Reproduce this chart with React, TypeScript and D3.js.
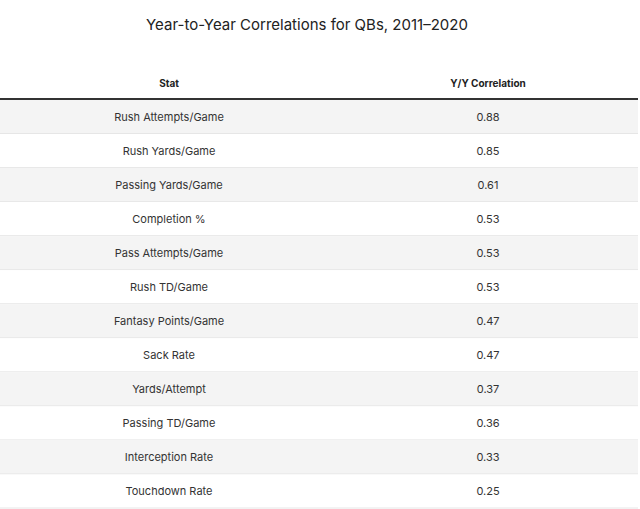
import React from "react";
import * as d3 from "d3";

const title = "Year-to-Year Correlations for QBs, 2011–2020";
const headers = ["Stat", "Y/Y Correlation"];
const stats = [
  "Rush Attempts/Game",
  "Rush Yards/Game",
  "Passing Yards/Game",
  "Completion %",
  "Pass Attempts/Game",
  "Rush TD/Game",
  "Fantasy Points/Game",
  "Sack Rate",
  "Yards/Attempt",
  "Passing TD/Game",
  "Interception Rate",
  "Touchdown Rate",
];
const correlations = [0.88, 0.85, 0.61, 0.53, 0.53, 0.53, 0.47, 0.47, 0.37, 0.36, 0.33, 0.25];

const W = 640;
const H = 509;
const FONT = "Inter, 'Noto Sans', sans-serif";

export default function App() {
  const x = d3.scaleBand<number>().domain([0, 1]).range([0, 638]).paddingInner(0).paddingOuter(0);
  const colX = d3.scaleOrdinal<number, number>().domain([0, 1]).range([169, 488]);
  const y = d3
    .scaleBand<number>()
    .domain(d3.range(stats.length))
    .range([100, 508.5]);
  const fmt = d3.format(".2f");

  return (
    <svg
      width={W}
      height={H}
      style={{ position: "absolute", left: 0, top: 0, background: "#fff" }}
    >
      <text
        x={307}
        y={30}
        textAnchor="middle"
        fontFamily={FONT}
        fontSize={15}
        fill="#222"
      >
        {title}
      </text>
      {headers.map((h, i) => (
        <text
          key={h}
          x={colX(i)}
          y={87}
          textAnchor="middle"
          fontFamily={FONT}
          fontSize={10}
          fontWeight={700}
          fill="#222"
        >
          {h}
        </text>
      ))}
      {stats.map((s, i) => {
        const y0 = y(i)!;
        const bh = y.bandwidth();
        return (
          <g key={s}>
            <rect
              x={0}
              y={y0}
              width={x.range()[1]}
              height={bh}
              fill={i % 2 === 0 ? "#f4f4f4" : "#ffffff"}
            />
            <line
              x1={0}
              x2={x.range()[1]}
              y1={y0 + bh - 0.5}
              y2={y0 + bh - 0.5}
              stroke="#e6e6e6"
              strokeWidth={1}
            />
            <text
              x={colX(0)}
              y={y0 + bh / 2 + 4}
              textAnchor="middle"
              fontFamily={FONT}
              fontSize={11}
              fill="#333"
            >
              {s}
            </text>
            <text
              x={colX(1)}
              y={y0 + bh / 2 + 4}
              textAnchor="middle"
              fontFamily={FONT}
              fontSize={11}
              fill="#333"
            >
              {fmt(correlations[i])}
            </text>
          </g>
        );
      })}
      <line x1={0} x2={x.range()[1]} y1={99} y2={99} stroke="#333" strokeWidth={2} />
    </svg>
  );
}
